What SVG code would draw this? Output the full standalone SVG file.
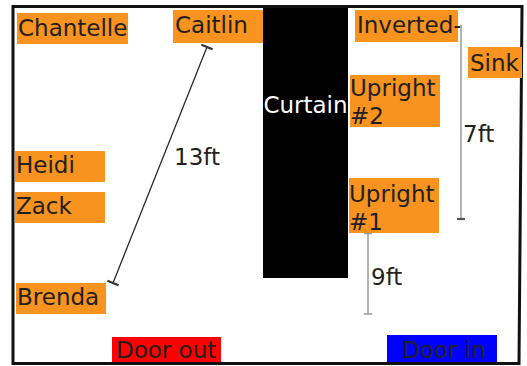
<svg xmlns="http://www.w3.org/2000/svg" width="527" height="366" viewBox="0 0 527 366">
  <style>
    .lbl { font-family: "DejaVu Sans", Verdana, sans-serif; font-size: 23px; fill: #231f20; }
    .box { fill: #f7931e; }
    .dim { stroke: #2a2a2a; stroke-width: 1.3; fill: none; }
    .dimg { stroke: #9a9a9a; stroke-width: 1.5; fill: none; }
    .tick { stroke: #333; stroke-width: 2.2; }
  </style>
  <rect width="527" height="366" fill="#ffffff"/>
  <!-- room outline -->
  <polygon points="13,6.5 522,6.5 519,363.5 13,363.5" fill="none" stroke="#111" stroke-width="3"/>

  <g id="curtain">
    <rect x="263" y="8" width="85" height="270" fill="#000"/>
    <text class="lbl" x="305.5" y="113" text-anchor="middle" style="fill:#fff">Curtain</text>
  </g>

  <g id="chantelle">
    <rect class="box" x="17" y="13" width="111" height="31"/>
    <text class="lbl" x="18" y="36">Chantelle</text>
  </g>
  <g id="caitlin">
    <rect class="box" x="173" y="10" width="90" height="33"/>
    <text class="lbl" x="175" y="33">Caitlin</text>
  </g>
  <g id="inverted">
    <rect class="box" x="355" y="10" width="103" height="32"/>
    <text class="lbl" x="357" y="33">Inverted-</text>
  </g>
  <g id="sink">
    <rect class="box" x="468" y="47" width="54" height="31"/>
    <text class="lbl" x="470" y="71">Sink</text>
  </g>
  <g id="upright2">
    <rect class="box" x="350" y="75" width="90" height="52"/>
    <text class="lbl" x="350" y="96">Upright</text>
    <text class="lbl" x="350" y="124">#2</text>
  </g>
  <g id="upright1">
    <rect class="box" x="349" y="178" width="90" height="55"/>
    <text class="lbl" x="349" y="202">Upright</text>
    <text class="lbl" x="349" y="230">#1</text>
  </g>
  <g id="heidi">
    <rect class="box" x="15" y="151" width="90" height="31"/>
    <text class="lbl" x="16" y="173">Heidi</text>
  </g>
  <g id="zack">
    <rect class="box" x="15" y="192" width="90" height="31"/>
    <text class="lbl" x="16" y="214">Zack</text>
  </g>
  <g id="brenda">
    <rect class="box" x="16" y="283" width="90" height="31"/>
    <text class="lbl" x="17" y="305">Brenda</text>
  </g>
  <g id="door-out">
    <rect x="112" y="337" width="109" height="25" fill="#ff0000"/>
    <text class="lbl" x="116" y="358">Door out</text>
  </g>
  <g id="door-in">
    <rect x="387" y="335" width="110" height="27" fill="#0000ff"/>
    <text class="lbl" x="402" y="358">Door in</text>
  </g>

  <g id="connectors">
    <!-- 13ft: Caitlin to Brenda -->
    <line class="dim" x1="207" y1="47" x2="113" y2="283"/>
    <line class="tick" x1="201.4" y1="44.8" x2="212.6" y2="49.2"/>
    <line class="tick" x1="107.4" y1="280.8" x2="118.6" y2="285.2"/>
    <text class="lbl" x="174" y="165">13ft</text>
    <!-- 7ft: Inverted to Upright #1 -->
    <line class="dimg" x1="461" y1="25" x2="461" y2="219"/>
    <line class="tick" x1="457" y1="219" x2="465" y2="219" style="stroke:#555"/>
    <text class="lbl" x="463" y="142">7ft</text>
    <!-- 9ft: Upright #1 downward -->
    <line class="dimg" x1="368" y1="233" x2="368" y2="314"/>
    <line class="dimg" x1="364" y1="233.5" x2="372" y2="233.5"/>
    <line class="dimg" x1="364" y1="314" x2="372" y2="314"/>
    <text class="lbl" x="371" y="285">9ft</text>
  </g>
</svg>
